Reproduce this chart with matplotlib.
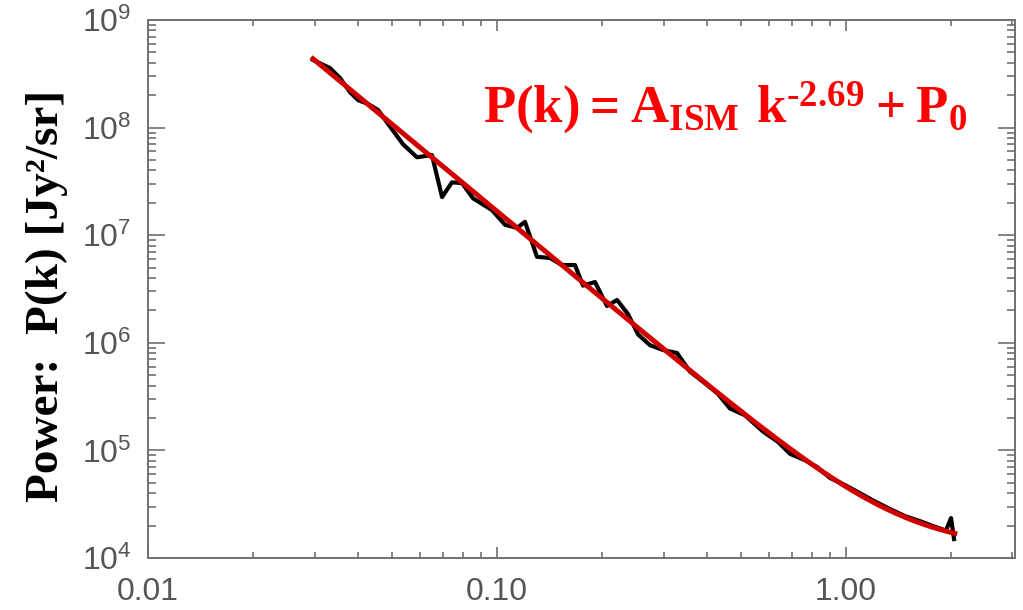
import numpy as np
import matplotlib
matplotlib.use("Agg")
import matplotlib.pyplot as plt
from matplotlib.ticker import LogLocator, FixedLocator, FuncFormatter, NullFormatter

plt.rcParams["mathtext.fontset"] = "custom"
plt.rcParams["mathtext.sf"] = "Liberation Sans"
plt.rcParams["mathtext.bf"] = "Liberation Serif:bold"
plt.rcParams["mathtext.rm"] = "Liberation Serif:bold"

# Measured angular power spectrum (wavenumber k, power P)
k_data = [0.0297, 0.0332, 0.0355, 0.0379, 0.0400, 0.0427, 0.0456, 0.0494,
          0.0538, 0.0590, 0.0651, 0.0696, 0.0743, 0.0794, 0.0854, 0.0968,
          0.1054, 0.1141, 0.1203, 0.1302, 0.1419, 0.1535, 0.1673, 0.1764,
          0.1909, 0.2066, 0.2208, 0.2373, 0.2535, 0.2745, 0.2990, 0.3280,
          0.3573, 0.3945, 0.4297, 0.4652, 0.5136, 0.5780, 0.6385, 0.6910,
          0.7630, 0.8260, 0.9000, 0.9930, 1.097, 1.211, 1.337, 1.476,
          1.630, 1.799, 1.934, 2.000, 2.040]
p_data = [4.25e8, 3.58e8, 2.89e8, 2.14e8, 1.80e8, 1.66e8, 1.46e8, 1.02e8,
          7.00e7, 5.30e7, 5.56e7, 2.26e7, 3.10e7, 3.05e7, 2.20e7, 1.71e7,
          1.25e7, 1.17e7, 1.33e7, 6.30e6, 6.14e6, 5.28e6, 5.28e6, 3.40e6,
          3.67e6, 2.20e6, 2.50e6, 1.85e6, 1.20e6, 9.50e5, 8.57e5, 8.04e5,
          5.40e5, 4.20e5, 3.35e5, 2.45e5, 2.12e5, 1.50e5, 1.20e5, 9.30e4,
          8.10e4, 7.01e4, 5.54e4, 4.77e4, 4.00e4, 3.35e4, 2.85e4, 2.45e4,
          2.20e4, 1.95e4, 1.80e4, 2.35e4, 1.50e4]

# Fitted model  P(k) = A_ISM * k^SLOPE + P0
A_ISM = 3.4e4
SLOPE = -2.69
P0 = 1.2e4
k_fit_range = (0.0297, 2.05)

x_tick_values = [0.01, 0.1, 1.0]
x_tick_labels = ["0.01", "0.10", "1.00"]

fig = plt.figure(figsize=(10.23, 6.10), dpi=100)
ax = fig.add_axes([148 / 1023, 1 - 558 / 610, (1015 - 148) / 1023, (558 - 20) / 610])

ax.plot(k_data, p_data, color="black", lw=3.0, zorder=2)
k_fit = np.geomspace(*k_fit_range, 300)
ax.plot(k_fit, A_ISM * k_fit ** SLOPE + P0, color="#d00000", lw=3.6, zorder=3)

ax.set_xscale("log")
ax.set_yscale("log")
ax.set_xlim(0.01, 3.05)
ax.set_ylim(1e4, 1e9)

spine_col = "#707070"
for s in ax.spines.values():
    s.set_color(spine_col)
    s.set_linewidth(1.4)

ax.xaxis.set_major_locator(FixedLocator(x_tick_values))
ax.xaxis.set_major_formatter(FuncFormatter(
    lambda v, pos: dict(zip(x_tick_values, x_tick_labels)).get(v, "")))
ax.xaxis.set_minor_locator(LogLocator(base=10, subs=np.arange(2, 10)))
ax.xaxis.set_minor_formatter(NullFormatter())
ax.yaxis.set_major_locator(LogLocator(base=10, numticks=10))
ax.yaxis.set_major_formatter(FuncFormatter(
    lambda v, pos: r"$\mathsf{10^{%d}}$" % round(np.log10(v))))
ax.yaxis.set_minor_locator(LogLocator(base=10, subs=np.arange(2, 10), numticks=20))
ax.yaxis.set_minor_formatter(NullFormatter())

ax.tick_params(axis="both", which="both", direction="in", top=True, right=True,
               color=spine_col, width=1.2, labelcolor="#555555")
ax.tick_params(axis="x", which="major", length=8, pad=14, labelsize=23)
ax.tick_params(axis="x", which="minor", length=4)
ax.tick_params(axis="y", which="major", length=12, pad=12, labelsize=23)
ax.tick_params(axis="y", which="minor", length=6)
for lab in ax.get_xticklabels():
    lab.set_fontfamily("Liberation Sans")

fig.text(47 / 1023, 1 - 296 / 610, "Power:  P(k) [Jy²/sr]", rotation=90,
         ha="center", va="center", fontsize=34, fontweight="bold",
         family="Liberation Serif", color="black")

fig.text(483 / 1023, 1 - 122 / 610,
         r"$\mathbf{P(k)=A_{ISM}\ k^{\text{-2.69}}+P_{0}}$",
         ha="left", va="baseline", fontsize=38, color="#ff0000")

fig.savefig("out.png", dpi=100)
